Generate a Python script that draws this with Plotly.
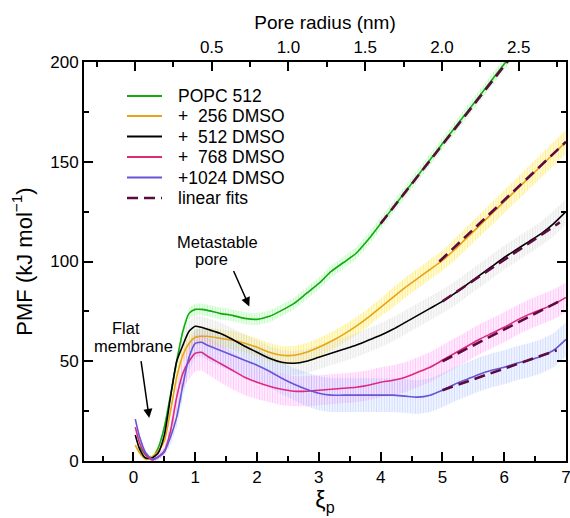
import plotly.graph_objects as go

# ---------------- data ----------------
xi = [0.03, 0.1, 0.2, 0.3, 0.4, 0.5, 0.6, 0.7, 0.8, 0.9, 1.0, 1.1, 1.2, 1.4, 1.6, 1.8,
      2.0, 2.2, 2.4, 2.6, 2.8, 3.0, 3.2, 3.4, 3.6, 3.8, 4.0, 4.2, 4.4, 4.6, 4.8, 5.0,
      5.2, 5.4, 5.6, 5.8, 6.0, 6.2, 6.4, 6.6, 6.8, 7.0]

pmf_popc = [None, 7, 3, 1.5, 6.5, 17, 33, 50, 65, 74, 76, 76, 75.5, 74, 73, 71.5,
            71, 72.5, 75.5, 79, 84, 89, 95, 99.5, 104, 111, 119, 127, 135, 143, 151, 159,
            167, 175, 183, 191, 199, 207, None, None, None, None]
err_popc = [None, 1, 1, 1, 1, 1.5, 2, 2.5, 3, 3, 3, 3, 3, 3, 3, 3,
            3, 3, 3, 3, 3, 3, 3, 3, 3, 3, 3, 3, 3, 3, 3, 3,
            3, 3, 3, 3, 3, 3, None, None, None, None]

pmf_256 = [8, 4, 1, 2, 5, 10, 25, 42, 53, 59, 62, 62.5, 62.5, 61.5, 60.5, 59,
           57, 54.5, 53, 53, 54.5, 57, 60, 63.5, 67.5, 72, 77, 82, 87, 91.5, 96, 100.5,
           106, 112, 118, 124, 130, 136, 142, 148, 154, 160]
err_256 = [1, 1, 1, 1, 1.5, 2, 3, 3.5, 4, 4, 4, 4, 4.5, 4.5, 4.5, 4.5,
           4.5, 4.5, 4.5, 4.5, 4.5, 4.5, 4.5, 4.5, 4.5, 4.5, 4.5, 5, 5, 5, 5, 5,
           5.5, 5.5, 5.5, 5.5, 6, 6, 6, 6, 6, 6]

pmf_512 = [13, 6, 1.5, 1.5, 4, 13, 32, 50, 58, 65, 67.5, 67, 66, 64, 61, 57.5,
           54.5, 51.5, 49.5, 49, 50, 52, 54, 56, 58, 60.5, 63, 66, 69.5, 73, 76.5, 80,
           84, 88.5, 93, 97.5, 102, 106, 110, 114, 119, 125]
err_512 = [1, 1, 1, 1, 1.5, 2, 3, 4, 5, 5, 5.5, 5.5, 5.5, 5.5, 5.5, 6,
           6, 6, 6, 6, 6, 6, 6, 6, 6, 6, 6, 6, 6, 6, 6, 6,
           6, 6, 6, 6, 6, 6, 6, 6, 6.5, 6.5]

pmf_768 = [17, 9, 3, 0.5, 2, 5, 15, 32, 44, 50, 54, 54.5, 52.5, 49, 45.5, 42,
           39.5, 37.5, 36, 35, 35, 35.5, 36, 36.5, 37, 38, 39.5, 40.5, 42, 44.5, 47, 50.5,
           54, 57.5, 61, 64, 67, 70.5, 73.5, 76, 78.5, 82]
err_768 = [1, 1, 1, 1, 1.5, 2, 4, 6, 8, 9, 9, 9, 9, 9.5, 9.5, 9,
           8.5, 8, 8, 7.5, 7.5, 7.5, 7.5, 7.5, 7.5, 7.5, 7.5, 7.5, 7.5, 7.5, 7.5, 7.5,
           7.5, 7.5, 7.5, 7.5, 7.5, 7.5, 7.5, 7.5, 7.5, 7.5]

pmf_1024 = [21, 12, 4, 1, 2, 4.5, 12, 22, 38, 52, 59, 59.5, 58, 55.5, 53, 50.5,
            48, 45, 41.5, 38.5, 36, 34, 33, 33, 33, 33, 33, 33, 32.5, 32, 33, 35.5,
            38.5, 41, 43.5, 45.5, 47, 49, 50.5, 52.5, 55.5, 61]
err_1024 = [1, 1, 1, 1, 1.5, 2, 4, 5, 6, 7, 7, 7, 7.5, 8, 8, 8,
            8, 8, 8, 8, 8.5, 8.5, 8.5, 8.5, 8.5, 8.5, 8.5, 8.5, 8.5, 8.5, 8.5, 8.5,
            8.5, 8.5, 8.5, 8.5, 8.5, 8.5, 8.5, 8.5, 8.5, 8.5]

# linear fits: start / end (xi, PMF)
fit_x0 = [4.0, 4.95, 5.0, 5.0, 5.0]
fit_x1 = [6.2, 7.0, 6.9, 6.95, 6.85]
fit_y0 = [119, 100, 80, 50, 35.5]
fit_y1 = [206, 160, 119.6, 81, 55.5]

names = ["POPC 512", "+\u00a0\u00a0256 DMSO", "+\u00a0\u00a0512 DMSO",
         "+\u00a0\u00a0768 DMSO", "+1024 DMSO"]
fit_name = "linear fits"
series = [pmf_popc, pmf_256, pmf_512, pmf_768, pmf_1024]
errors = [err_popc, err_256, err_512, err_768, err_1024]
line_colors = ["#14a814", "#e8a317", "#000000", "#e0287e", "#6656d6"]
band_colors = ["rgba(120,250,120,0.95)", "rgba(255,222,0,0.95)", "rgba(200,200,200,0.85)",
               "rgba(255,120,245,0.85)", "rgba(140,170,255,0.8)"]
fit_color = "#5c0a40"

# top axis: pore radius (nm)
r_ticks = [0, 0.5, 1.0, 1.5, 2.0, 2.5]
r_labels = ["", "0.5", "1.0", "1.5", "2.0", "2.5"]

FONT = "Liberation Sans, Arial, Helvetica, sans-serif"

# plot area in pixels (layout only)
L, R, T, B = 84, 566, 62, 461
W, H = 570, 518

def px(x):
    return (x - L) / (R - L)

def py(y):
    return (B - y) / (B - T)

fig = go.Figure()

# error bands (vertical hatching)
for vals, errs, bc in zip(series, errors, band_colors):
    xs = [x for x, v in zip(xi, vals) if v is not None]
    hi = [v + e for v, e in zip(vals, errs) if v is not None]
    lo = [v - e for v, e in zip(vals, errs) if v is not None]
    fig.add_trace(go.Scatter(
        x=xs + xs[::-1], y=hi + lo[::-1], mode="lines", line=dict(width=0, color=bc),
        fill="toself", fillcolor="rgba(0,0,0,0)",
        fillpattern=dict(shape="|", fgcolor=bc, bgcolor="rgba(255,255,255,0)",
                         size=2.6, solidity=0.55),
        showlegend=False, hoverinfo="skip"))

# PMF curves
for vals, nm, lc in zip(series, names, line_colors):
    xs = [x for x, v in zip(xi, vals) if v is not None]
    ys = [v for v in vals if v is not None]
    fig.add_trace(go.Scatter(x=xs, y=ys, mode="lines", name=nm, showlegend=False,
                             line=dict(color=lc, width=1.6, shape="spline", smoothing=0.6)))

# linear fits
for i in range(len(fit_x0)):
    fig.add_trace(go.Scatter(x=[fit_x0[i], fit_x1[i]], y=[fit_y0[i], fit_y1[i]],
                             mode="lines", name=fit_name, showlegend=False,
                             line=dict(color=fit_color, width=2.6, dash="11px,6px")))

# dummy trace to activate top axis
fig.add_trace(go.Scatter(x=[0, 2.5], y=[None, None], xaxis="x2", showlegend=False,
                         hoverinfo="skip"))

axis_common = dict(showline=True, linecolor="black", linewidth=2, ticks="inside",
                   tickcolor="black", tickwidth=1.5, showgrid=False, zeroline=False,
                   automargin=False, ticklabeloverflow="allow",
                   tickfont=dict(family=FONT, size=17, color="black"))

fig.update_layout(
    width=W, height=H,
    margin=dict(l=L, r=W - R, t=T, b=H - B, autoexpand=False),
    paper_bgcolor="white", plot_bgcolor="white",
    font=dict(family=FONT, color="black"),
    xaxis=dict(range=[-0.8, 7], tickvals=[0, 1, 2, 3, 4, 5, 6, 7], ticklen=9,
               minor=dict(dtick=0.5, tick0=0, ticklen=5, ticks="inside", tickcolor="black", tickwidth=1.5),
               title=dict(text="ξ<sub>p</sub>", font=dict(family=FONT, size=23), standoff=0),
               **axis_common),
    xaxis2=dict(overlaying="x", side="top", range=[-0.332, 2.808],
                tickvals=r_ticks, ticktext=r_labels, ticklen=9,
                minor=dict(dtick=0.25, tick0=0, ticklen=5, ticks="inside", tickcolor="black", tickwidth=1.5),
                title=dict(text="Pore radius (nm)", font=dict(family=FONT, size=19), standoff=4),
                **axis_common),
    yaxis=dict(range=[0, 200], tickvals=[0, 50, 100, 150, 200], ticklen=9, mirror="ticks",
               minor=dict(dtick=25, tick0=0, ticklen=5, ticks="inside", tickcolor="black", tickwidth=1.5),
               title=dict(text="PMF (kJ mol<sup>−1</sup>)", font=dict(family=FONT, size=22), standoff=12),
               **axis_common),
    showlegend=False,
)

# manual legend (to match the reference spacing)
leg_rows = [96, 116, 136.5, 157, 177.5, 198]
leg_x0, leg_x1, leg_tx = 127, 162, 176
leg_font = dict(family=FONT, size=17.5, color="black")
for i, (nm, lc) in enumerate(zip(names + [fit_name], line_colors + [fit_color])):
    yy = py(leg_rows[i])
    if i < len(names):
        fig.add_shape(type="line", xref="paper", yref="paper", x0=px(leg_x0), x1=px(leg_x1),
                      y0=yy, y1=yy, line=dict(color=lc, width=1.8))
    else:
        fig.add_shape(type="line", xref="paper", yref="paper", x0=px(leg_x0), x1=px(leg_x1),
                      y0=yy, y1=yy, line=dict(color=lc, width=2.6, dash="11px,6px"))
    fig.add_annotation(xref="paper", yref="paper", x=px(leg_tx), y=yy, text=nm,
                       showarrow=False, xanchor="left", yanchor="middle", font=leg_font)

ann_font = dict(family=FONT, size=16.5, color="black")
fig.add_annotation(x=1.36, y=110, text="Metastable", showarrow=False, font=ann_font)
fig.add_annotation(x=1.27, y=101.5, text="pore", showarrow=False, font=ann_font)
fig.add_annotation(x=1.875, y=77.5, ax=1.61, ay=96, axref="x", ayref="y", text="",
                   showarrow=True, arrowhead=2, arrowsize=1.2, arrowwidth=1.5, arrowcolor="black")
fig.add_annotation(x=-0.12, y=66.8, text="Flat", showarrow=False, font=ann_font)
fig.add_annotation(x=0.0, y=57.4, text="membrane", showarrow=False, font=ann_font)
fig.add_annotation(x=0.255, y=21.6, ax=0.12, ay=50.8, axref="x", ayref="y", text="",
                   showarrow=True, arrowhead=2, arrowsize=1.2, arrowwidth=1.5, arrowcolor="black")

fig.write_html("out.html")
